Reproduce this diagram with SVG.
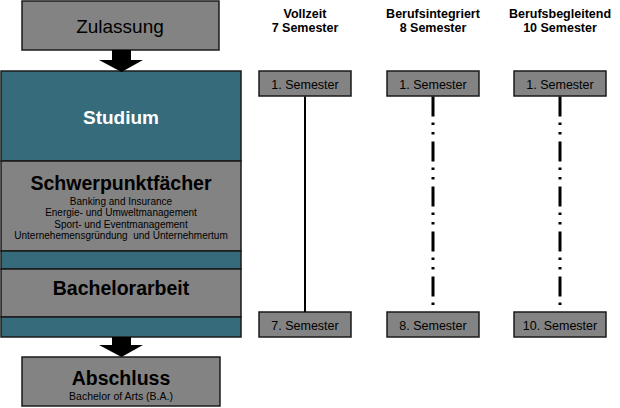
<svg xmlns="http://www.w3.org/2000/svg" width="620" height="408" viewBox="0 0 620 408">
<style>
text{font-family:"Liberation Sans",Arial,sans-serif;text-anchor:middle;fill:#000}
.gray{fill:#838383;stroke:#1a1a1a;stroke-width:1.5}
.teal{fill:#356b7a;stroke:#1a1a1a;stroke-width:1.5}
.big{font-size:19.5px;font-weight:bold}
.small{font-size:10px}
.hdr{font-size:12.5px;font-weight:bold}
.sem{font-size:12.5px}
.dash{stroke:#000;stroke-width:3;stroke-dasharray:20 6 2.5 7 2.5 7;fill:none}
</style>
<rect width="620" height="408" fill="#fff"/>
<g id="zulassung">
<rect class="gray" x="22" y="1" width="197" height="49"/>
<text x="120" y="33" style="font-size:19px">Zulassung</text>
</g>
<g id="studium">
<rect class="teal" x="1" y="71" width="240" height="90"/>
<text x="121" y="124" class="big" style="fill:#fff;font-size:19px">Studium</text>
</g>
<g id="schwerpunkt">
<rect class="gray" x="1" y="161" width="240" height="90"/>
<text x="121" y="190" class="big">Schwerpunktfächer</text>
<text x="121" y="204.5" class="small">Banking and Insurance</text>
<text x="121" y="216" class="small">Energie- und Umweltmanagement</text>
<text x="121" y="227.5" class="small">Sport- und Eventmanagement</text>
<text x="121" y="239" class="small" style="white-space:pre">Unternehemensgründung  und Unternehmertum</text>
</g>
<g id="strip1"><rect class="teal" x="1" y="251" width="240" height="18"/></g>
<g id="bachelorarbeit">
<rect class="gray" x="1" y="269" width="240" height="48"/>
<text x="121" y="295" class="big">Bachelorarbeit</text>
</g>
<g id="strip2"><rect class="teal" x="1" y="317" width="240" height="20"/></g>
<g id="abschluss">
<rect class="gray" x="22" y="357" width="198" height="49"/>
<text x="121" y="385" class="big">Abschluss</text>
<text x="121" y="400" style="font-size:10.5px">Bachelor of Arts (B.A.)</text>
</g>
<g id="headers">
<text x="305" y="17.5" class="hdr">Vollzeit</text>
<text x="305" y="31.5" class="hdr">7 Semester</text>
<text x="433" y="17.5" class="hdr">Berufsintegriert</text>
<text x="433" y="31.5" class="hdr">8 Semester</text>
<text x="560" y="17.5" class="hdr">Berufsbegleitend</text>
<text x="560" y="31.5" class="hdr">10 Semester</text>
</g>
<g id="vz1"><rect class="gray" x="259" y="71" width="92" height="25"/><text x="305" y="88.5" class="sem">1. Semester</text></g>
<g id="bi1"><rect class="gray" x="387" y="71" width="92" height="25"/><text x="433" y="88.5" class="sem">1. Semester</text></g>
<g id="bb1"><rect class="gray" x="514" y="71" width="92" height="25"/><text x="560" y="88.5" class="sem">1. Semester</text></g>
<g id="vz7"><rect class="gray" x="259" y="312" width="92" height="25"/><text x="305" y="329.5" class="sem">7. Semester</text></g>
<g id="bi8"><rect class="gray" x="387" y="312" width="92" height="25"/><text x="433" y="329.5" class="sem">8. Semester</text></g>
<g id="bb10"><rect class="gray" x="514" y="312" width="92" height="25"/><text x="560" y="329.5" class="sem">10. Semester</text></g>
<g id="connectors">
<polygon points="112,50 131,50 131,60 143,60 121.5,72 99,60 112,60" fill="#000"/>
<polygon points="112,337 131,337 131,345 143,345 121.5,357 99,345 112,345" fill="#000"/>
<line x1="305" y1="96.5" x2="305" y2="312" stroke="#000" stroke-width="2"/>
<line class="dash" x1="433" y1="96.5" x2="433" y2="311"/>
<line class="dash" x1="560" y1="96.5" x2="560" y2="311"/>
</g>
</svg>
